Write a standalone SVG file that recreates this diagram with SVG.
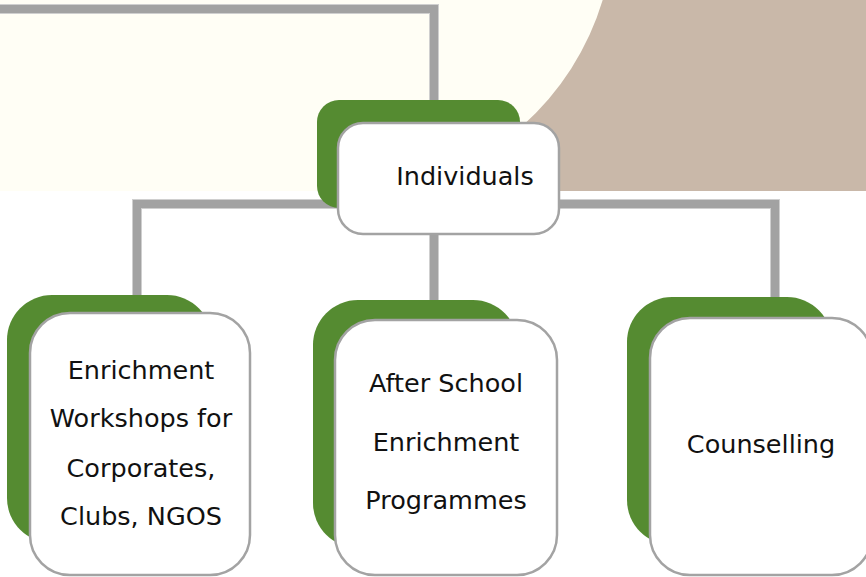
<svg xmlns="http://www.w3.org/2000/svg" width="866" height="577" viewBox="0 0 866 577">
<style>
.bg{fill:#FFFEF5}
.tan{fill:#C9B8A9}
.ln{fill:none;stroke:#A2A2A2;stroke-width:8;stroke-linejoin:miter}
.ln2{fill:none;stroke:#CFCFCF;stroke-width:10;stroke-linejoin:miter}
.g{fill:#558B31}
.w{fill:#FFFFFF;stroke:#A3A3A3;stroke-width:2.5}
.t{font-family:"DejaVu Sans","Liberation Sans",sans-serif;font-size:25.5px;fill:#111111;text-anchor:middle}
</style>
<rect x="0" y="0" width="866" height="577" fill="#FFFFFF"/>
<rect class="bg" x="0" y="0" width="866" height="191"/>
<path class="tan" d="M866 0 L602.7 0 A274 274 0 0 1 387 191 L866 191 Z"/>
<g id="connectors">
<path class="ln2" d="M-5 9 L434 9 L434 102"/>
<path class="ln" d="M-5 9 L434 9 L434 102"/>
<path class="ln2" d="M137 297 L137 204 L775 204 L775 299"/>
<path class="ln" d="M137 297 L137 204 L775 204 L775 299"/>
<path class="ln2" d="M434 232 L434 302"/>
<path class="ln" d="M434 232 L434 302"/>
</g>
<g id="node-individuals">
<rect class="g" x="317" y="100" width="203" height="108" rx="22" ry="22"/>
<rect class="w" x="338" y="123" width="221" height="111" rx="25" ry="25"/>
<text class="t" x="465" y="185">Individuals</text>
</g>
<g id="node-enrichment-workshops">
<rect class="g" x="7" y="295" width="205" height="248" rx="45" ry="45"/>
<rect class="w" x="30" y="313" width="220" height="262" rx="40" ry="40"/>
<text class="t" x="141" y="379">Enrichment</text>
<text class="t" x="141" y="427">Workshops for</text>
<text class="t" x="141" y="477">Corporates,</text>
<text class="t" x="141" y="525">Clubs, NGOS</text>
</g>
<g id="node-after-school">
<rect class="g" x="313" y="300" width="205" height="248" rx="45" ry="45"/>
<rect class="w" x="335" y="320" width="222" height="255" rx="40" ry="40"/>
<text class="t" x="446" y="392">After School</text>
<text class="t" x="446" y="451">Enrichment</text>
<text class="t" x="446" y="509">Programmes</text>
</g>
<g id="node-counselling">
<rect class="g" x="627" y="297" width="205" height="248" rx="45" ry="45"/>
<rect class="w" x="650" y="318" width="222" height="257" rx="40" ry="40"/>
<text class="t" x="761" y="453">Counselling</text>
</g>
</svg>
